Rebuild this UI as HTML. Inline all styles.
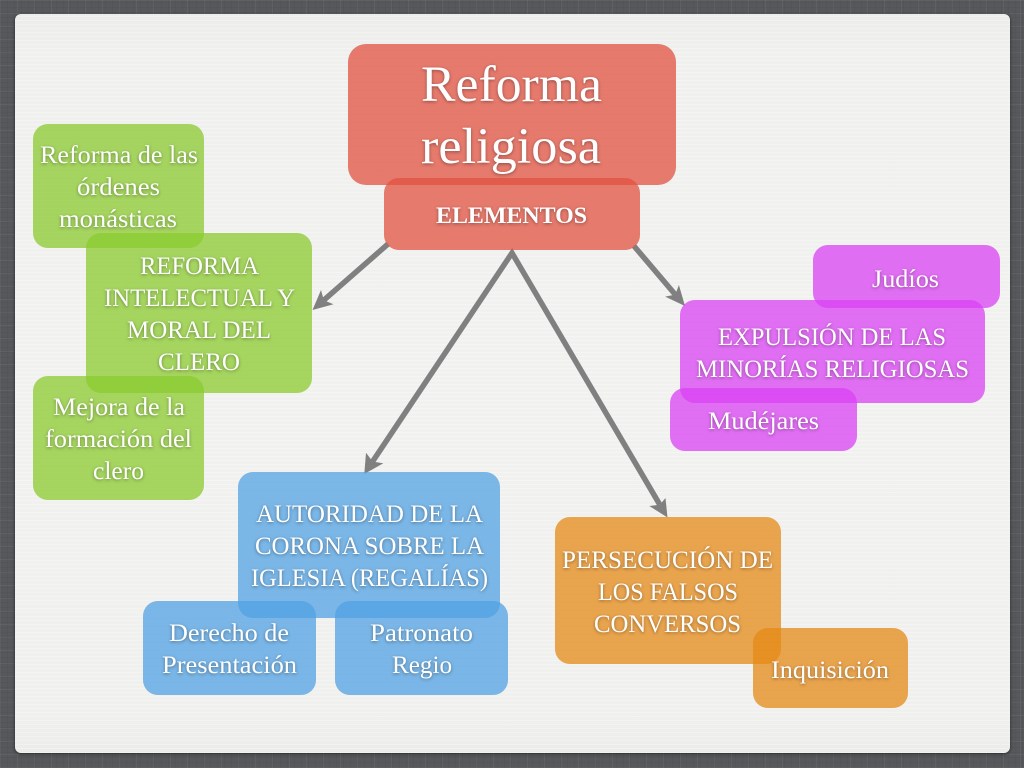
<!DOCTYPE html>
<html lang="es">
<head>
<meta charset="utf-8">
<title>Reforma religiosa</title>
<style>
html,body{margin:0;padding:0;width:1024px;height:768px;overflow:hidden;background:#54565a}
#bg{position:absolute;left:0;top:0;width:1024px;height:768px;
background:
repeating-linear-gradient(0deg,rgba(255,255,255,.05) 0 1px,rgba(255,255,255,0) 1px 13px),
repeating-linear-gradient(90deg,rgba(255,255,255,.05) 0 1px,rgba(255,255,255,0) 1px 17px),
repeating-linear-gradient(0deg,rgba(0,0,0,.04) 0 1px,rgba(0,0,0,0) 1px 5px),
repeating-linear-gradient(90deg,rgba(0,0,0,.04) 0 1px,rgba(0,0,0,0) 1px 7px),
#56585c}
#paper{position:absolute;left:15px;top:14px;width:995px;height:739px;border-radius:6px;
box-shadow:0 1px 3px rgba(0,0,0,.55);
background:
repeating-linear-gradient(0deg,rgba(255,255,255,.18) 0 1px,rgba(0,0,0,.006) 1px 4px),
linear-gradient(180deg,#eeeeec 0,#f2f2f0 45px,#f3f3f1 50%,#f2f2f0 94%,#eeeeec 100%)}
svg{position:absolute;left:0;top:0}
text{font-family:"Liberation Serif",serif;fill:#fff;font-size:25px;text-anchor:start}
.t{filter:drop-shadow(0 1px 1.5px rgba(0,0,0,.38))}
</style>
</head>
<body>
<div id="bg"></div>
<div id="paper"></div>
<svg width="1024" height="768" viewBox="0 0 1024 768">
  <g fill="none" stroke="#808080" stroke-width="5.5">
    <line x1="388" y1="244" x2="323.8" y2="300.2"/>
    <line x1="634" y1="246" x2="675.3" y2="294.6"/>
    <polyline points="372.6,461.5 512,253 659.8,504.7" stroke-linejoin="miter" stroke-miterlimit="10"/>
  </g>
  <g fill="#808080">
    <polygon points="312.5,310 333.5,304.3 323.8,300.2 321,290"/>
    <polygon points="685,306 665.1,296.6 675.3,294.6 678.9,285"/>
    <polygon points="364.3,474 383.3,463.3 372.6,461.5 366,452.7"/>
    <polygon points="667.5,517.5 649.3,506 659.8,504.7 665.5,498"/>
  </g>

  <g fill="#e15140" fill-opacity=".75">
    <rect x="348" y="44" width="328" height="141" rx="18"/>
    <rect x="384" y="178" width="256" height="72" rx="15"/>
  </g>
  <g fill="#8bcb2f" fill-opacity=".75">
    <rect x="33" y="124" width="171" height="124" rx="15"/>
    <rect x="86" y="233" width="226" height="160" rx="15"/>
    <rect x="33" y="376" width="171" height="124" rx="15"/>
  </g>
  <g fill="#da41f4" fill-opacity=".75">
    <rect x="813" y="245" width="187" height="63" rx="15"/>
    <rect x="680" y="300" width="305" height="103" rx="15"/>
    <rect x="670" y="388" width="187" height="63" rx="15"/>
  </g>
  <g fill="#51a2e3" fill-opacity=".75">
    <rect x="238" y="472" width="262" height="146" rx="15"/>
    <rect x="143" y="601" width="173" height="94" rx="15"/>
    <rect x="335" y="601" width="173" height="94" rx="15"/>
  </g>
  <g fill="#e68a17" fill-opacity=".75">
    <rect x="555" y="517" width="226" height="147" rx="15"/>
    <rect x="753" y="628" width="155" height="80" rx="15"/>
  </g>

  <g class="t">
    <text x="421" y="101" style="font-size:51px" textLength="181" lengthAdjust="spacingAndGlyphs">Reforma</text>
    <text x="421" y="163" style="font-size:51px" textLength="180" lengthAdjust="spacingAndGlyphs">religiosa</text>
    <text x="436" y="223" style="font-size:23px;font-weight:bold" textLength="151" lengthAdjust="spacingAndGlyphs">ELEMENTOS</text>

    <text x="40" y="163" textLength="158" lengthAdjust="spacingAndGlyphs">Reforma de las</text>
    <text x="77" y="195" textLength="83" lengthAdjust="spacingAndGlyphs">órdenes</text>
    <text x="59" y="227" textLength="118" lengthAdjust="spacingAndGlyphs">monásticas</text>

    <text x="140" y="274" textLength="119" lengthAdjust="spacingAndGlyphs">REFORMA</text>
    <text x="104" y="306" textLength="191" lengthAdjust="spacingAndGlyphs">INTELECTUAL Y</text>
    <text x="127" y="338" textLength="144" lengthAdjust="spacingAndGlyphs">MORAL DEL</text>
    <text x="158" y="370" textLength="82" lengthAdjust="spacingAndGlyphs">CLERO</text>

    <text x="53" y="415" textLength="132" lengthAdjust="spacingAndGlyphs">Mejora de la</text>
    <text x="45" y="447" textLength="147" lengthAdjust="spacingAndGlyphs">formación del</text>
    <text x="93" y="479" textLength="51" lengthAdjust="spacingAndGlyphs">clero</text>

    <text x="256" y="522" textLength="227" lengthAdjust="spacingAndGlyphs">AUTORIDAD DE LA</text>
    <text x="255" y="554" textLength="229" lengthAdjust="spacingAndGlyphs">CORONA SOBRE LA</text>
    <text x="251" y="586" textLength="237" lengthAdjust="spacingAndGlyphs">IGLESIA (REGALÍAS)</text>

    <text x="169" y="641" textLength="120" lengthAdjust="spacingAndGlyphs">Derecho de</text>
    <text x="162" y="673" textLength="135" lengthAdjust="spacingAndGlyphs">Presentación</text>
    <text x="370" y="641" textLength="103" lengthAdjust="spacingAndGlyphs">Patronato</text>
    <text x="392" y="673" textLength="60" lengthAdjust="spacingAndGlyphs">Regio</text>

    <text x="562" y="568" textLength="211" lengthAdjust="spacingAndGlyphs">PERSECUCIÓN DE</text>
    <text x="598" y="600" textLength="140" lengthAdjust="spacingAndGlyphs">LOS FALSOS</text>
    <text x="594" y="632" textLength="147" lengthAdjust="spacingAndGlyphs">CONVERSOS</text>
    <text x="771" y="678" textLength="118" lengthAdjust="spacingAndGlyphs">Inquisición</text>

    <text x="872" y="287" textLength="67" lengthAdjust="spacingAndGlyphs">Judíos</text>
    <text x="718" y="345" textLength="228" lengthAdjust="spacingAndGlyphs">EXPULSIÓN DE LAS</text>
    <text x="696" y="377" textLength="273" lengthAdjust="spacingAndGlyphs">MINORÍAS RELIGIOSAS</text>
    <text x="708" y="429" textLength="111" lengthAdjust="spacingAndGlyphs">Mudéjares</text>
  </g>
</svg>
</body>
</html>
